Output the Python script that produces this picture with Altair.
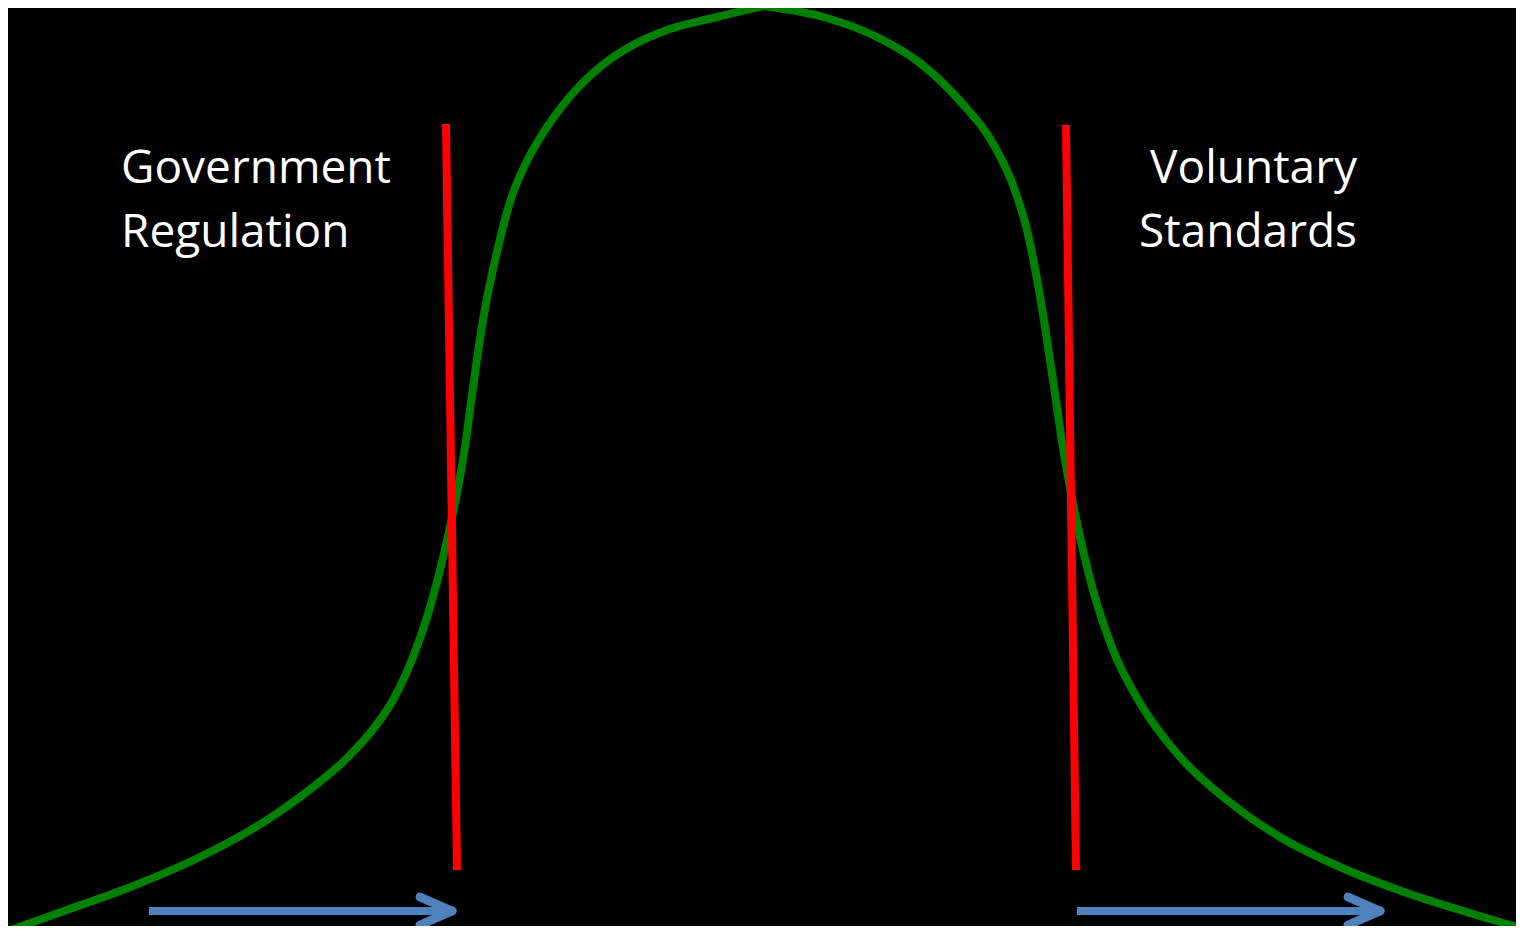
import altair as alt
import pandas as pd

# Horizontal position and vertical level (level 0 = bottom edge of the picture)
curve_left_x = [5, 67, 133, 200, 267, 300, 347, 370, 393, 413, 428, 448, 457, 465, 472, 483, 497, 510, 527, 547, 567, 600, 633, 667, 717, 764]
curve_left_img = [932, 910, 886, 857, 820, 797, 758, 733, 700, 657, 614, 536, 493, 447, 395, 320, 252, 202, 161, 127, 100, 67, 45, 30, 17, 6]
curve_right_x = [764, 827, 877, 920, 960, 995, 1013, 1027, 1040, 1053, 1063, 1077, 1093, 1113, 1140, 1180, 1227, 1280, 1340, 1407, 1473, 1524]
curve_right_img = [6, 18, 37, 63, 101, 147, 185, 230, 296, 380, 448, 523, 590, 650, 703, 757, 800, 837, 867, 893, 914, 929]
FULL = 934
curve_left_y = [FULL - v for v in curve_left_img]
curve_right_y = [FULL - v for v in curve_right_img]

# Red threshold lines (top and bottom ends)
thr_x_top = [446, 1066]
thr_x_bot = [457, 1076]
thr_y_top = [810, 809]
thr_y_bot = [64, 64]

# Blue arrows
arrow_start = [149, 1077]
arrow_tip = [452, 1380]
arrow_level = 23
head_back = 32
head_spread = 14

labels = ["Government", "Regulation", "Voluntary", "Standards"]
label_x = [121, 121, 1357, 1357]
label_y = [751, 687, 751, 687]
label_align = ["left", "left", "right", "right"]

X_DOMAIN = [8, 1516]
Y_DOMAIN = [8, 926]

xs = alt.Scale(domain=X_DOMAIN, nice=False, zero=False)
ys = alt.Scale(domain=Y_DOMAIN, nice=False, zero=False)

curve_df = pd.DataFrame(
    {"x": curve_left_x + curve_right_x,
     "y": curve_left_y + curve_right_y,
     "side": ["left"] * len(curve_left_x) + ["right"] * len(curve_right_x)}
)

curve = alt.Chart(curve_df).mark_line(
    color="#008000", strokeWidth=8, interpolate="monotone", clip=True
).encode(
    x=alt.X("x:Q", scale=xs, axis=None),
    y=alt.Y("y:Q", scale=ys, axis=None),
    detail="side:N",
)

thr_df = pd.DataFrame({"x": thr_x_top, "x2": thr_x_bot, "y": thr_y_top, "y2": thr_y_bot})
thresholds = alt.Chart(thr_df).mark_rule(color="#FF0000", strokeWidth=8, strokeCap="butt").encode(
    x=alt.X("x:Q", scale=xs, axis=None), x2="x2:Q",
    y=alt.Y("y:Q", scale=ys, axis=None), y2="y2:Q",
)

shaft_df = pd.DataFrame({"x": arrow_start, "x2": [t - 4 for t in arrow_tip],
                         "y": [arrow_level] * 2, "y2": [arrow_level] * 2})
shafts = alt.Chart(shaft_df).mark_rule(color="#4F81BD", strokeWidth=8, strokeCap="butt").encode(
    x=alt.X("x:Q", scale=xs, axis=None), x2="x2:Q",
    y=alt.Y("y:Q", scale=ys, axis=None), y2="y2:Q",
)

head_rows = []
for t in arrow_tip:
    for s in (1, -1):
        head_rows.append({"x": t - head_back, "x2": t, "y": arrow_level + s * head_spread, "y2": arrow_level})
heads = alt.Chart(pd.DataFrame(head_rows)).mark_rule(color="#4F81BD", strokeWidth=9, strokeCap="round").encode(
    x=alt.X("x:Q", scale=xs, axis=None), x2="x2:Q",
    y=alt.Y("y:Q", scale=ys, axis=None), y2="y2:Q",
)

text_layers = []
for al in ("left", "right"):
    df = pd.DataFrame({"t": [l for l, a in zip(labels, label_align) if a == al],
                       "x": [x for x, a in zip(label_x, label_align) if a == al],
                       "y": [y for y, a in zip(label_y, label_align) if a == al]})
    text_layers.append(
        alt.Chart(df).mark_text(align=al, baseline="alphabetic", font="Open Sans",
                                fontSize=46, color="white").encode(
            x=alt.X("x:Q", scale=xs, axis=None),
            y=alt.Y("y:Q", scale=ys, axis=None),
            text="t:N",
        )
    )

chart = alt.layer(curve, thresholds, shafts, heads, *text_layers).properties(
    width=1508, height=918, padding=0, background="black",
    autosize=alt.AutoSizeParams(type="none"),
).configure_view(stroke=None, fill="black")

chart.save("out.html", embed_options={"renderer": "svg", "actions": False})
